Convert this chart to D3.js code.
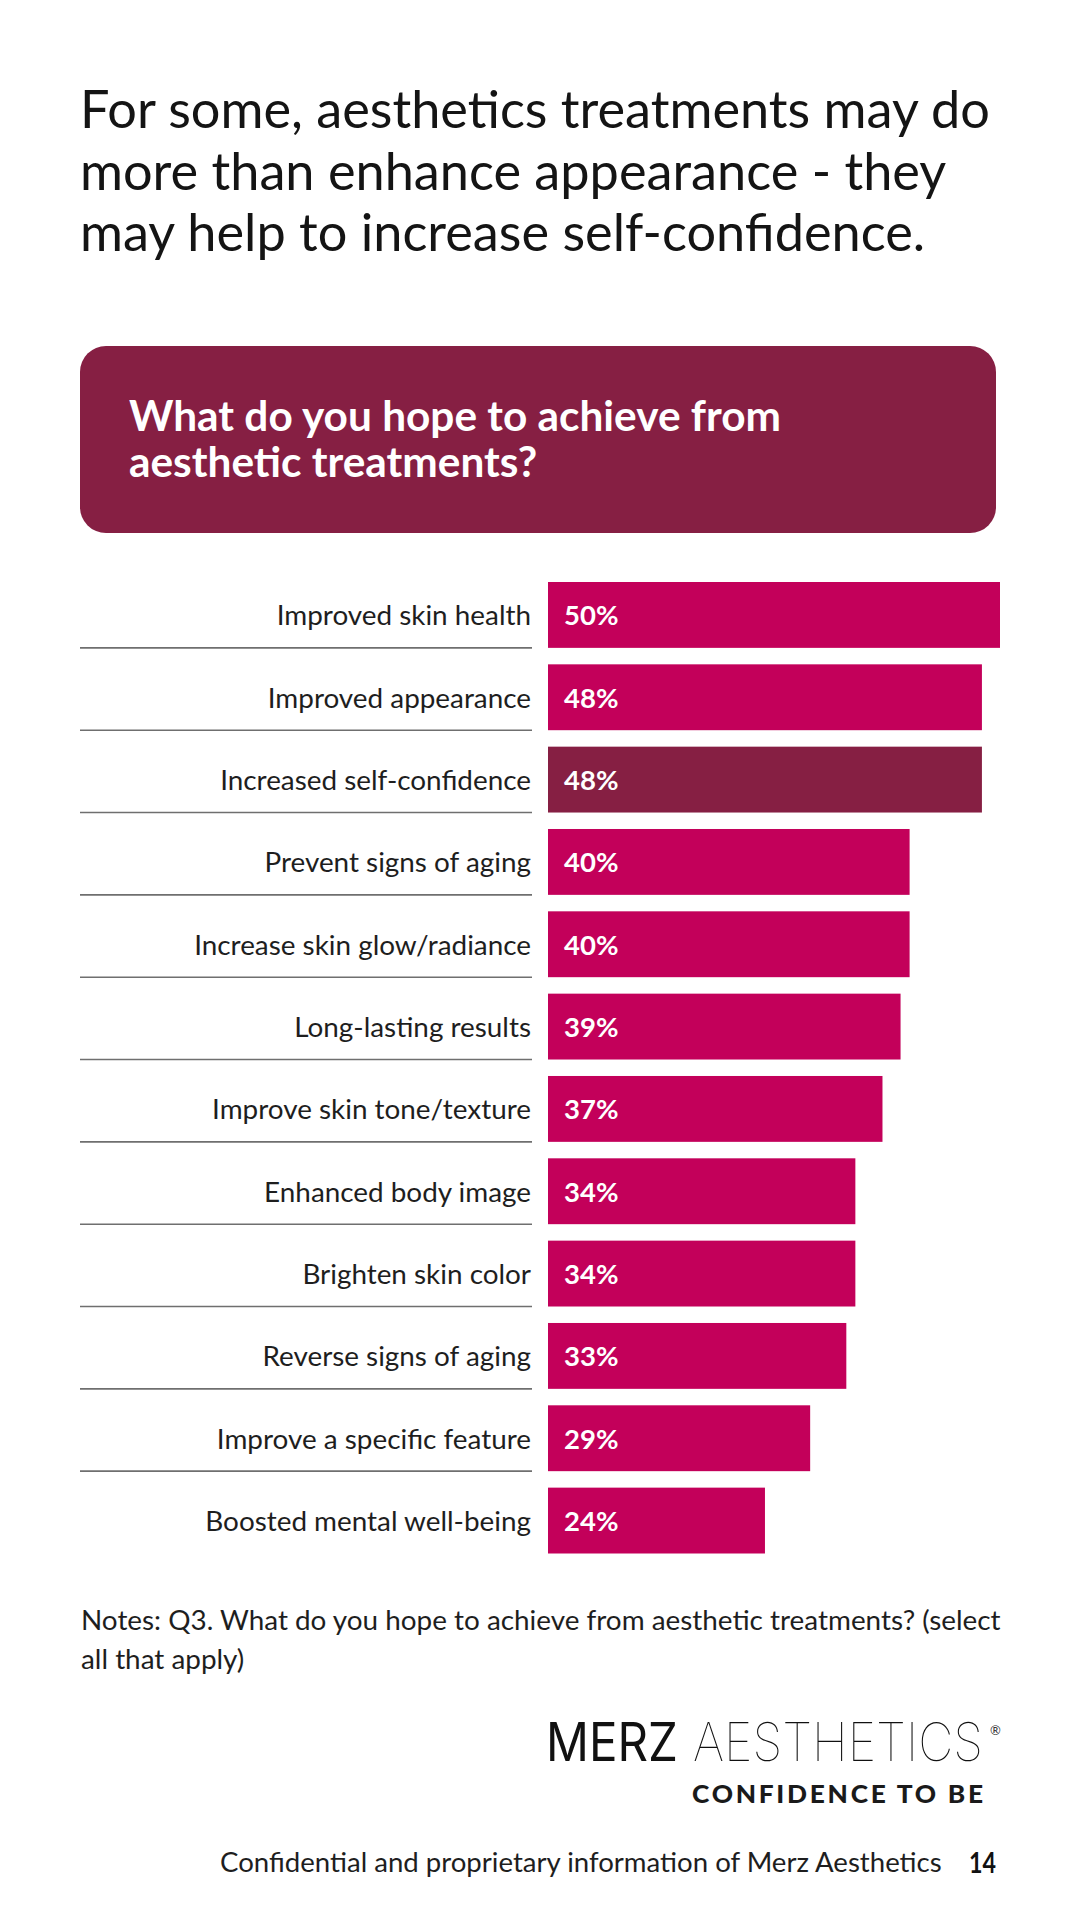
<!DOCTYPE html>
<html>
<head>
<meta charset="utf-8">
<script src="https://cdn.jsdelivr.net/npm/d3@7"></script>
<style>
  html, body { margin: 0; padding: 0; background: #ffffff; }
  svg { display: block; }
</style>
</head>
<body>
<svg id="chart" width="1080" height="1920"></svg>
<script>
// ---- data ----
const titleLines = [
  "For some, aesthetics treatments may do",
  "more than enhance appearance - they",
  "may help to increase self-confidence."
];
const questionLines = [
  "What do you hope to achieve from",
  "aesthetic treatments?"
];
const categories = [
  "Improved skin health",
  "Improved appearance",
  "Increased self-confidence",
  "Prevent signs of aging",
  "Increase skin glow/radiance",
  "Long-lasting results",
  "Improve skin tone/texture",
  "Enhanced body image",
  "Brighten skin color",
  "Reverse signs of aging",
  "Improve a specific feature",
  "Boosted mental well-being"
];
const values = [50, 48, 48, 40, 40, 39, 37, 34, 34, 33, 29, 24];
const highlighted = ["Increased self-confidence"];
const noteLines = [
  "Notes: Q3. What do you hope to achieve from aesthetic treatments? (select",
  "all that apply)"
];
const footerText = "Confidential and proprietary information of Merz Aesthetics";
const pageNumber = "14";

// ---- setup ----
const FONT = "Lato, 'Noto Sans', 'DejaVu Sans', sans-serif";
const PINK = "#C3005A";
const MAROON = "#861F43";
const svg = d3.select("#chart");
svg.append("rect").attr("width", 1080).attr("height", 1920).attr("fill", "#ffffff");

function fitSize(sel, target) {
  const w = sel.node().getComputedTextLength();
  const fs = parseFloat(sel.attr("font-size"));
  return fs * target / w;
}
// squeeze a text horizontally to a target width with a real transform
function squeeze(sel, x0, y0, target) {
  const w = sel.node().getComputedTextLength();
  sel.attr("x", 0).attr("y", 0)
     .attr("transform", `translate(${x0},${y0}) scale(${target / w},1)`);
}

// ---- title ----
const tl = svg.append("g").selectAll("text").data(titleLines).join("text")
  .attr("x", 80)
  .attr("y", (d, i) => 128 + i * 61.5)
  .attr("font-family", FONT)
  .attr("font-size", 52)
  .attr("font-weight", 400)
  .attr("fill", "#141414")
  .text(d => d);
tl.attr("font-size", fitSize(d3.select(tl.nodes()[0]), 910));

// ---- question box ----
svg.append("rect")
  .attr("x", 80).attr("y", 346)
  .attr("width", 916).attr("height", 187)
  .attr("rx", 26).attr("ry", 26)
  .attr("fill", MAROON);
const ql = svg.append("g").selectAll("text").data(questionLines).join("text")
  .attr("x", 129)
  .attr("y", (d, i) => 431 + i * 46)
  .attr("font-family", FONT)
  .attr("font-size", 38)
  .attr("font-weight", 700)
  .attr("fill", "#ffffff")
  .text(d => d);
ql.attr("font-size", fitSize(d3.select(ql.nodes()[0]), 652));

// ---- bars ----
const data = categories.map((c, i) => ({ cat: c, val: values[i] }));
const x = d3.scaleLinear().domain([0, 50]).range([548, 1000]);
const y = d3.scaleBand().domain(categories).range([582, 1553.5]).paddingInner(0.2).paddingOuter(0);
const bw = y.bandwidth();

const chart = svg.append("g");

chart.selectAll("line.sep").data(categories.slice(0, -1)).join("line")
  .attr("class", "sep")
  .attr("x1", 80).attr("x2", 532)
  .attr("y1", d => y(d) + bw)
  .attr("y2", d => y(d) + bw)
  .attr("stroke", "#6f6f6f")
  .attr("stroke-width", 1.6);

chart.selectAll("rect.bar").data(data).join("rect")
  .attr("class", "bar")
  .attr("x", x(0))
  .attr("y", d => y(d.cat))
  .attr("width", d => x(d.val) - x(0))
  .attr("height", bw)
  .attr("fill", d => highlighted.includes(d.cat) ? MAROON : PINK);

const catLabels = chart.selectAll("text.cat").data(data).join("text")
  .attr("class", "cat")
  .attr("x", 531)
  .attr("y", d => y(d.cat) + bw / 2 + 10.5)
  .attr("text-anchor", "end")
  .attr("font-family", FONT)
  .attr("font-size", 26)
  .attr("font-weight", 400)
  .attr("fill", "#1e1e1e")
  .text(d => d.cat);
catLabels.attr("font-size", fitSize(d3.select(catLabels.nodes()[0]), 254.5));

const valLabels = chart.selectAll("text.val").data(data).join("text")
  .attr("class", "val")
  .attr("x", x(0) + 16)
  .attr("y", d => y(d.cat) + bw / 2 + 10.5)
  .attr("font-family", FONT)
  .attr("font-size", 25)
  .attr("font-weight", 700)
  .attr("fill", "#ffffff")
  .text(d => d.val + "%");
valLabels.attr("font-size", fitSize(d3.select(valLabels.nodes()[0]), 54.5));

// ---- notes ----
const nl = svg.append("g").selectAll("text").data(noteLines).join("text")
  .attr("x", 81)
  .attr("y", (d, i) => 1630 + i * 39)
  .attr("font-family", FONT)
  .attr("font-size", 24)
  .attr("fill", "#1e1e1e")
  .text(d => d);
nl.attr("font-size", fitSize(d3.select(nl.nodes()[0]), 920));

// ---- logo ----
const logo = svg.append("g");
const merz = logo.append("text")
  .attr("font-family", "Inter, Lato, sans-serif")
  .attr("font-size", 53)
  .attr("font-weight", 400)
  .attr("fill", "#111")
  .text("MERZ");
squeeze(merz, 546, 1761, 132);
const aest = logo.append("text")
  .attr("font-family", "Inter, Lato, sans-serif")
  .attr("font-size", 53)
  .attr("font-weight", 100)
  .attr("fill", "#111")
  .text("AESTHETICS");
squeeze(aest, 693, 1761, 290);
logo.append("text")
  .attr("x", 990).attr("y", 1735)
  .attr("font-family", FONT)
  .attr("font-size", 13)
  .attr("fill", "#333")
  .text("®");
const conf = logo.append("text")
  .attr("font-family", "Lato, sans-serif")
  .attr("font-size", 24)
  .attr("font-weight", 900)
  .attr("letter-spacing", 2.5)
  .attr("fill", "#1a1a1a")
  .text("CONFIDENCE TO BE");
squeeze(conf, 692, 1803, 294);

// ---- footer ----
const ft = svg.append("text")
  .attr("x", 220).attr("y", 1872)
  .attr("font-family", FONT)
  .attr("font-size", 24)
  .attr("fill", "#1e1e1e")
  .text(footerText);
ft.attr("font-size", fitSize(ft, 722));
const pg = svg.append("text")
  .attr("font-family", FONT)
  .attr("font-size", 29)
  .attr("font-weight", 700)
  .attr("fill", "#111")
  .text(pageNumber);
squeeze(pg, 969, 1873, 27);
</script>
</body>
</html>
